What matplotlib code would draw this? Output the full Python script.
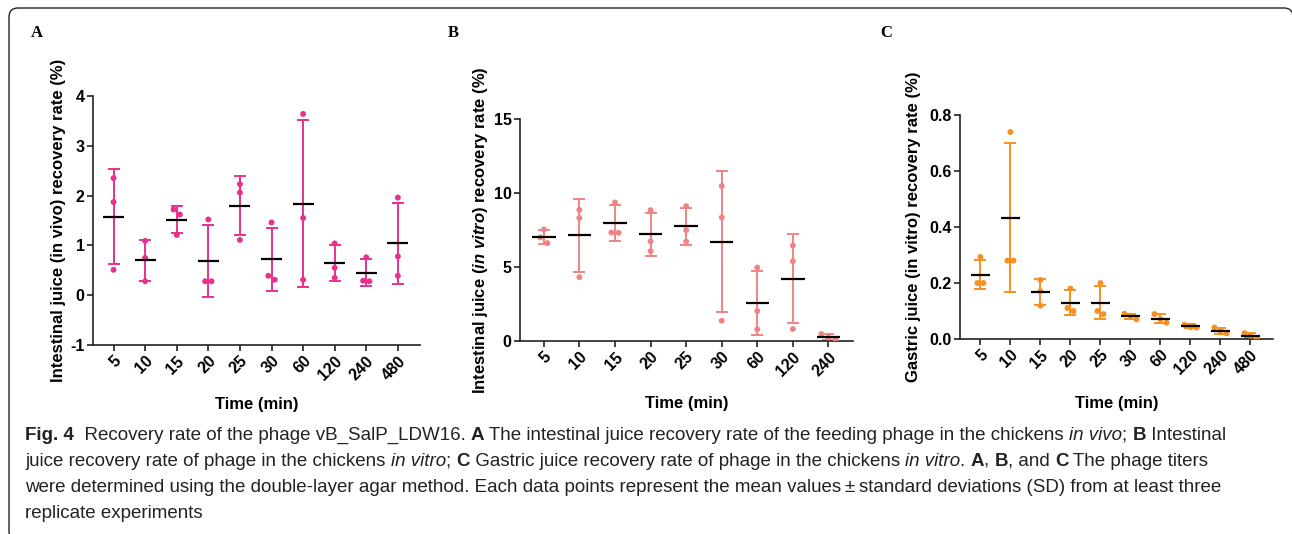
import matplotlib
matplotlib.use("Agg")
import matplotlib.pyplot as plt
from matplotlib.patches import FancyBboxPatch
from matplotlib.transforms import IdentityTransform
import numpy as np

plt.rcParams['font.family'] = ['Liberation Sans', 'DejaVu Sans']
plt.rcParams['mathtext.fontset'] = 'custom'
plt.rcParams['mathtext.rm'] = 'Liberation Sans:bold'
plt.rcParams['mathtext.it'] = 'Liberation Sans:italic:bold'
plt.rcParams['mathtext.bf'] = 'Liberation Sans:bold'

# panel A - intestinal juice in vivo
a_times = ['5', '10', '15', '20', '25', '30', '60', '120', '240', '480']
a_mean = [1.58, 0.70, 1.52, 0.69, 1.80, 0.72, 1.84, 0.65, 0.45, 1.04]
a_sd = [0.95, 0.41, 0.27, 0.72, 0.60, 0.63, 1.68, 0.36, 0.27, 0.82]
a_points = [[2.35, 1.87, 0.51], [1.09, 0.75, 0.28], [1.72, 1.62, 1.21],
            [1.52, 0.28, 0.28], [2.23, 2.06, 1.11], [1.46, 0.39, 0.31],
            [3.64, 1.55, 0.31], [1.04, 0.55, 0.35], [0.76, 0.29, 0.28],
            [1.96, 0.78, 0.39]]

# panel B - intestinal juice in vitro
b_times = ['5', '10', '15', '20', '25', '30', '60', '120', '240']
b_mean = [7.04, 7.13, 7.98, 7.22, 7.74, 6.72, 2.59, 4.22, 0.25]
b_sd = [0.48, 2.49, 1.19, 1.46, 1.23, 4.76, 2.16, 2.98, 0.19]
b_points = [[7.53, 7.00, 6.61], [8.86, 8.32, 4.31], [9.36, 7.33, 7.31],
            [8.84, 6.74, 6.07], [9.11, 7.49, 6.72], [10.47, 8.35, 1.37],
            [4.96, 2.03, 0.79], [6.45, 5.39, 0.81], [0.47, 0.23, 0.11]]

# panel C - gastric juice in vitro
c_times = ['5', '10', '15', '20', '25', '30', '60', '120', '240', '480']
c_mean = [0.230, 0.433, 0.167, 0.130, 0.130, 0.081, 0.073, 0.046, 0.030, 0.012]
c_sd = [0.053, 0.266, 0.047, 0.046, 0.060, 0.008, 0.017, 0.006, 0.011, 0.010]
c_points = [[0.293, 0.200, 0.200], [0.739, 0.280, 0.280], [0.211, 0.171, 0.119],
            [0.180, 0.111, 0.100], [0.200, 0.100, 0.089], [0.090, 0.083, 0.070],
            [0.089, 0.071, 0.058], [0.051, 0.042, 0.041], [0.041, 0.030, 0.020],
            [0.021, 0.012, 0.002]]

W, H = 1292, 534
fig = plt.figure(figsize=(W / 100, H / 100), dpi=100)


def px_axes(left, top, right, bottom):
    return fig.add_axes([left / W, 1 - bottom / H, (right - left) / W, (bottom - top) / H])


def jitter(vals, thr):
    # spread points that sit on top of each other, like a prism scatter
    order = np.argsort(vals)[::-1]
    offs = np.zeros(len(vals))
    groups = [[order[0]]]
    for i in order[1:]:
        if vals[groups[-1][-1]] - vals[i] < thr:
            groups[-1].append(i)
        else:
            groups.append([i])
    for g in groups:
        n = len(g)
        for k, i in enumerate(g):
            offs[i] = (k - (n - 1) / 2) * 0.2
    return offs


def panel(ax, times, mean, sd, points, color, ylim, yticks, ylabel, xl, yl_x, xl_y):
    x = np.arange(len(times))
    ax.errorbar(x, mean, yerr=sd, fmt='none', ecolor=color, elinewidth=1.4,
                capsize=4, capthick=1.4, zorder=2)
    thr = 0.03 * (ylim[1] - ylim[0])
    for i, pts in enumerate(points):
        offs = jitter(np.array(pts), thr)
        ax.scatter(i + offs, pts, s=18, color=color, edgecolors='none', zorder=3)
    ax.hlines(mean, x - 0.33, x + 0.33, color='black', lw=1.6, zorder=4)
    ax.set_xlim(xl)
    ax.set_ylim(ylim)
    ax.set_yticks(yticks)
    ax.set_xticks(x)
    ax.set_xticklabels(times, rotation=45, ha='right', rotation_mode='anchor')
    for s in ['top', 'right']:
        ax.spines[s].set_visible(False)
    for s in ['left', 'bottom']:
        ax.spines[s].set_linewidth(1.2)
        ax.spines[s].set_color('#222222')
    ax.tick_params(width=1.2, length=4, labelsize=11.5, color='#222222', pad=2)
    for lab in ax.get_xticklabels() + ax.get_yticklabels():
        lab.set_fontweight('bold')
    ax.set_ylabel(ylabel, fontsize=12, fontweight='bold')
    ax.yaxis.label.set_va('center')
    ax.yaxis.set_label_coords(yl_x, 0.5)
    ax.set_xlabel('Time (min)', fontsize=12, fontweight='bold')
    ax.xaxis.label.set_va('center')
    ax.xaxis.set_label_coords(0.5, xl_y)


ax_a = px_axes(93, 96, 420, 345)
panel(ax_a, a_times, a_mean, a_sd, a_points, '#E8308C', (-1, 4), [-1, 0, 1, 2, 3, 4],
      'Intestinal juice (in vivo) recovery rate (%)', (-0.65, 9.7), -0.107, -0.237)
ax_a.set_yticklabels(['-1', '0', '1', '2', '3', '4'])

ax_b = px_axes(520, 119, 853, 341)
panel(ax_b, b_times, b_mean, b_sd, b_points, '#F08484', (0, 15), [0, 5, 10, 15],
      r'Intestinal juice ($\mathit{in\ vitro}$) recovery rate (%)', (-0.67, 8.69), -0.12, -0.28)

ax_c = px_axes(960, 115, 1273, 339)
panel(ax_c, c_times, c_mean, c_sd, c_points, '#F7901E', (0, 0.8), [0, 0.2, 0.4, 0.6, 0.8],
      'Gastric juice (in vitro) recovery rate (%)', (-0.68, 9.75), -0.15, -0.286)
ax_c.set_yticklabels(['0.0', '0.2', '0.4', '0.6', '0.8'])

for lab, xp in [('A', 37), ('B', 453), ('C', 886)]:
    fig.text(xp / W, 1 - 33 / H, lab, family='Liberation Serif', fontweight='bold',
             fontsize=12, ha='center', va='center')

# caption, written run by run so bold and italic parts can sit inline
caption = [
    [('Fig. 4', 'b'), ('  Recovery rate of the phage vB_SalP_LDW16. ', 'n'), ('A', 'b'),
     (' The intestinal juice recovery rate of the feeding phage in the chickens ', 'n'),
     ('in vivo', 'i'), ('; ', 'n'), ('B', 'b'), (' Intestinal', 'n')],
    [('juice recovery rate of phage in the chickens ', 'n'), ('in vitro', 'i'), ('; ', 'n'),
     ('C', 'b'), (' Gastric juice recovery rate of phage in the chickens ', 'n'),
     ('in vitro', 'i'), ('. ', 'n'), ('A', 'b'), (', ', 'n'), ('B', 'b'), (', and ', 'n'),
     ('C', 'b'), (' The phage titers', 'n')],
    [('were determined using the double-layer agar method. Each data points represent the '
      'mean values\u2009\u00b1\u2009standard deviations (SD) from at least three', 'n')],
    [('replicate experiments', 'n')],
]
cap_font = ['Liberation Sans Narrow', 'Liberation Sans', 'DejaVu Sans']
cap_size = 13.5
renderer = fig.canvas.get_renderer()


def run_width(s, kw):
    t1 = fig.text(0, 0, 'x' + s + 'x', **kw)
    t2 = fig.text(0, 0, 'xx', **kw)
    w = t1.get_window_extent(renderer).width - t2.get_window_extent(renderer).width
    t1.remove()
    t2.remove()
    return w


for li, line in enumerate(caption):
    xcur = 25
    ybase = H - (440 + 26 * li)
    for s, st in line:
        kw = dict(family=cap_font, fontsize=cap_size, color='#222222',
                  fontweight='bold' if st == 'b' else 'normal',
                  fontstyle='italic' if st == 'i' else 'normal')
        fig.text(xcur / W, ybase / H, s, ha='left', va='baseline', **kw)
        xcur += run_width(s, kw)

border = FancyBboxPatch((9, -6), 1284, H - 8 + 6, boxstyle='round,pad=0,rounding_size=9',
                        transform=IdentityTransform(), fill=False, lw=1.0, ec='#222222')
fig.add_artist(border)

fig.savefig('out.png', dpi=100)
